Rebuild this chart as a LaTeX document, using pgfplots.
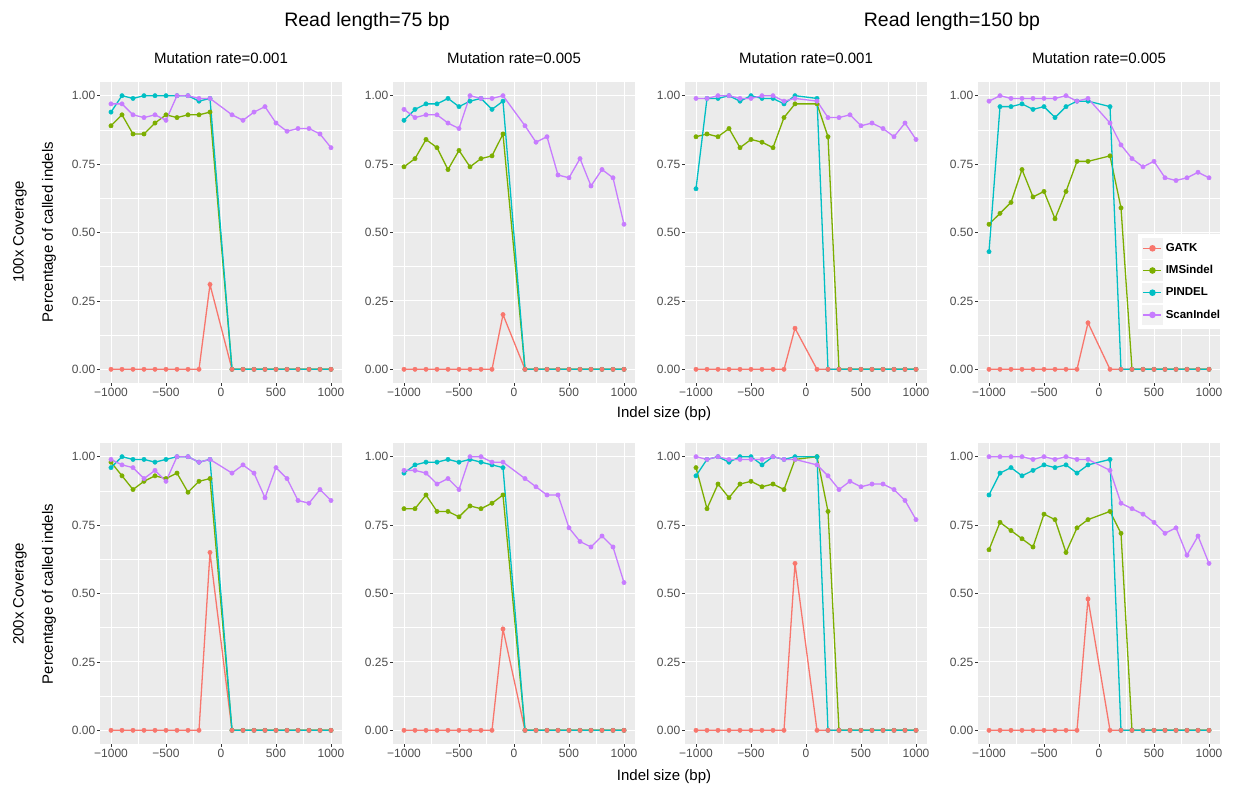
\documentclass[border=0pt]{standalone}
\usepackage{fontspec}
\setmainfont{Liberation Sans}
\usepackage{pgfplots}
\usepackage{pgfplotstable}
\pgfplotsset{compat=1.18}
\definecolor{ggred}{HTML}{F8766D}
\definecolor{gggreen}{HTML}{7CAE00}
\definecolor{ggcyan}{HTML}{00BFC4}
\definecolor{ggpurple}{HTML}{C77CFF}
\definecolor{ggbg}{HTML}{EBEBEB}
\definecolor{ggkey}{HTML}{F2F2F2}
\definecolor{gglab}{HTML}{4D4D4D}
\definecolor{ggtick}{HTML}{333333}

% 75 bp, rate 0.001, 100x
\pgfplotstableread{
x gatk ims pin scan
-1000 0 0.89 0.94 0.97
-900 0 0.93 1.00 0.97
-800 0 0.86 0.99 0.93
-700 0 0.86 1.00 0.92
-600 0 0.90 1.00 0.93
-500 0 0.93 1.00 0.91
-400 0 0.92 1.00 1.00
-300 0 0.93 1.00 1.00
-200 0 0.93 0.98 0.99
-100 0.31 0.94 0.99 0.99
100 0 0 0 0.93
200 0 0 0 0.91
300 0 0 0 0.94
400 0 0 0 0.96
500 0 0 0 0.90
600 0 0 0 0.87
700 0 0 0 0.88
800 0 0 0 0.88
900 0 0 0 0.86
1000 0 0 0 0.81
}\tabA
% 75 bp, rate 0.005, 100x
\pgfplotstableread{
x gatk ims pin scan
-1000 0 0.74 0.91 0.95
-900 0 0.77 0.95 0.92
-800 0 0.84 0.97 0.93
-700 0 0.81 0.97 0.93
-600 0 0.73 0.99 0.90
-500 0 0.80 0.96 0.88
-400 0 0.74 0.98 1.00
-300 0 0.77 0.99 0.99
-200 0 0.78 0.95 0.99
-100 0.20 0.86 0.98 1.00
100 0 0 0 0.89
200 0 0 0 0.83
300 0 0 0 0.85
400 0 0 0 0.71
500 0 0 0 0.70
600 0 0 0 0.77
700 0 0 0 0.67
800 0 0 0 0.73
900 0 0 0 0.70
1000 0 0 0 0.53
}\tabB
% 150 bp, rate 0.001, 100x
\pgfplotstableread{
x gatk ims pin scan
-1000 0 0.85 0.66 0.99
-900 0 0.86 0.99 0.99
-800 0 0.85 0.99 1.00
-700 0 0.88 1.00 1.00
-600 0 0.81 0.98 0.99
-500 0 0.84 1.00 0.99
-400 0 0.83 0.99 1.00
-300 0 0.81 0.99 1.00
-200 0 0.92 0.97 0.98
-100 0.15 0.97 1.00 0.99
100 0 0.97 0.99 0.98
200 0 0.85 0 0.92
300 0 0 0 0.92
400 0 0 0 0.93
500 0 0 0 0.89
600 0 0 0 0.90
700 0 0 0 0.88
800 0 0 0 0.85
900 0 0 0 0.90
1000 0 0 0 0.84
}\tabC
% 150 bp, rate 0.005, 100x
\pgfplotstableread{
x gatk ims pin scan
-1000 0 0.53 0.43 0.98
-900 0 0.57 0.96 1.00
-800 0 0.61 0.96 0.99
-700 0 0.73 0.97 0.99
-600 0 0.63 0.95 0.99
-500 0 0.65 0.96 0.99
-400 0 0.55 0.92 0.99
-300 0 0.65 0.96 1.00
-200 0 0.76 0.98 0.98
-100 0.17 0.76 0.98 0.99
100 0 0.78 0.96 0.90
200 0 0.59 0 0.82
300 0 0 0 0.77
400 0 0 0 0.74
500 0 0 0 0.76
600 0 0 0 0.70
700 0 0 0 0.69
800 0 0 0 0.70
900 0 0 0 0.72
1000 0 0 0 0.70
}\tabD
% 75 bp, rate 0.001, 200x
\pgfplotstableread{
x gatk ims pin scan
-1000 0 0.98 0.96 0.99
-900 0 0.93 1.00 0.97
-800 0 0.88 0.99 0.96
-700 0 0.91 0.99 0.92
-600 0 0.93 0.98 0.95
-500 0 0.92 0.99 0.91
-400 0 0.94 1.00 1.00
-300 0 0.87 1.00 1.00
-200 0 0.91 0.98 0.98
-100 0.65 0.92 0.99 0.99
100 0 0 0 0.94
200 0 0 0 0.97
300 0 0 0 0.94
400 0 0 0 0.85
500 0 0 0 0.96
600 0 0 0 0.92
700 0 0 0 0.84
800 0 0 0 0.83
900 0 0 0 0.88
1000 0 0 0 0.84
}\tabE
% 75 bp, rate 0.005, 200x
\pgfplotstableread{
x gatk ims pin scan
-1000 0 0.81 0.94 0.95
-900 0 0.81 0.97 0.95
-800 0 0.86 0.98 0.94
-700 0 0.80 0.98 0.90
-600 0 0.80 0.99 0.92
-500 0 0.78 0.98 0.88
-400 0 0.82 0.99 1.00
-300 0 0.81 0.98 1.00
-200 0 0.83 0.97 0.98
-100 0.37 0.86 0.96 0.98
100 0 0 0 0.92
200 0 0 0 0.89
300 0 0 0 0.86
400 0 0 0 0.86
500 0 0 0 0.74
600 0 0 0 0.69
700 0 0 0 0.67
800 0 0 0 0.71
900 0 0 0 0.67
1000 0 0 0 0.54
}\tabF
% 150 bp, rate 0.001, 200x
\pgfplotstableread{
x gatk ims pin scan
-1000 0 0.96 0.93 1.00
-900 0 0.81 0.99 0.99
-800 0 0.90 1.00 1.00
-700 0 0.85 0.98 0.99
-600 0 0.90 1.00 0.99
-500 0 0.91 1.00 0.99
-400 0 0.89 0.97 0.99
-300 0 0.90 1.00 1.00
-200 0 0.88 0.99 0.99
-100 0.61 0.99 1.00 0.99
100 0 1.00 1.00 0.97
200 0 0.80 0 0.93
300 0 0 0 0.88
400 0 0 0 0.91
500 0 0 0 0.89
600 0 0 0 0.90
700 0 0 0 0.90
800 0 0 0 0.88
900 0 0 0 0.84
1000 0 0 0 0.77
}\tabG
% 150 bp, rate 0.005, 200x
\pgfplotstableread{
x gatk ims pin scan
-1000 0 0.66 0.86 1.00
-900 0 0.76 0.94 1.00
-800 0 0.73 0.96 1.00
-700 0 0.70 0.93 1.00
-600 0 0.67 0.95 0.99
-500 0 0.79 0.97 1.00
-400 0 0.77 0.96 0.99
-300 0 0.65 0.97 1.00
-200 0 0.74 0.94 0.99
-100 0.48 0.77 0.97 0.99
100 0 0.80 0.99 0.95
200 0 0.72 0 0.83
300 0 0 0 0.81
400 0 0 0 0.79
500 0 0 0 0.76
600 0 0 0 0.72
700 0 0 0 0.74
800 0 0 0 0.64
900 0 0 0 0.71
1000 0 0 0 0.61
}\tabH

\pgfplotsset{
  ggpanel/.style={
    scale only axis, width=242pt, height=301pt,
    xmin=-1100, xmax=1100, ymin=-0.05, ymax=1.05,
    xtick={-1000,-500,0,500,1000},
    xticklabels={−1000,−500,0,500,1000},
    ytick={0,0.25,0.5,0.75,1},
    yticklabels={0.00,0.25,0.50,0.75,1.00},
    minor xtick={-750,-250,250,750},
    minor ytick={0.125,0.375,0.625,0.875},
    grid=both,
    major grid style={white, line width=1.0pt},
    minor grid style={white, line width=0.5pt},
    axis background/.style={fill=ggbg},
    axis line style={draw=none},
    tick pos=left,
    tick align=outside,
    major tick length=3pt, minor tick length=0pt,
    tick style={color=ggtick, line width=0.6pt},
    ticklabel style={font=\fontsize{12}{14}\selectfont, text=gglab},
    xticklabel style={inner sep=2pt},
    yticklabel style={inner sep=1.5pt},
  },
  ggl/.style={line width=1.3pt, no marks, forget plot},
  ggm/.style={only marks, mark=*, mark size=2.2pt, forget plot},
  legend style={at={(0.661,0.495)}, anchor=north west, draw=none, fill=white,
     font=\bfseries\fontsize{11.5}{13}\selectfont, row sep=0pt,
     inner xsep=3pt, inner ysep=3pt,
     nodes={inner ysep=0pt, inner xsep=2pt}},
  legend cell align=left,
  legend image code/.code={%
       \fill[ggkey, draw=white, line width=0.6pt] (-2pt,-10.8pt) rectangle (20pt,10.8pt);
       \draw[mark repeat=2, mark phase=2, #1] plot coordinates {(0pt,0pt) (9pt,0pt) (18pt,0pt)};},
}

\newcommand{\drawpanel}[4]{%
\begin{axis}[ggpanel, at={(#1pt,#2pt)}, anchor=north west]
\addplot[ggl, ggred] table[x=x,y=gatk]{#3};
\addplot[ggl, gggreen] table[x=x,y=ims]{#3};
\addplot[ggl, ggcyan] table[x=x,y=pin]{#3};
\addplot[ggl, ggpurple] table[x=x,y=scan]{#3};
\addplot[ggm, gggreen] table[x=x,y=ims]{#3};
\addplot[ggm, ggcyan] table[x=x,y=pin]{#3};
\addplot[ggm, ggred] table[x=x,y=gatk]{#3};
\addplot[ggm, ggpurple] table[x=x,y=scan]{#3};
#4
\end{axis}}

\begin{document}
\begin{tikzpicture}[x=1pt,y=1pt]
\useasboundingbox (0,0) rectangle (1240,-786);

\drawpanel{100}{-82}{\tabA}{}
\drawpanel{393}{-82}{\tabB}{}
\drawpanel{685}{-82}{\tabC}{}
\drawpanel{978}{-82}{\tabD}{%
  \addlegendimage{ggred, line width=1.3pt, mark=*, mark size=2.6pt}
  \addlegendentry{GATK}
  \addlegendimage{gggreen, line width=1.3pt, mark=*, mark size=2.6pt}
  \addlegendentry{IMSindel}
  \addlegendimage{ggcyan, line width=1.3pt, mark=*, mark size=2.6pt}
  \addlegendentry{PINDEL}
  \addlegendimage{ggpurple, line width=1.3pt, mark=*, mark size=2.6pt}
  \addlegendentry{ScanIndel}
}
\drawpanel{100}{-443}{\tabE}{}
\drawpanel{393}{-443}{\tabF}{}
\drawpanel{685}{-443}{\tabG}{}
\drawpanel{978}{-443}{\tabH}{}

% titles
\node[anchor=base, font=\fontsize{19.5}{22}\selectfont] at (367,-27) {Read length=75 bp};
\node[anchor=base, font=\fontsize{19.5}{22}\selectfont] at (952,-27) {Read length=150 bp};
\node[anchor=base, font=\fontsize{15}{18}\selectfont] at (221,-64) {Mutation rate=0.001};
\node[anchor=base, font=\fontsize{15}{18}\selectfont] at (514,-64) {Mutation rate=0.005};
\node[anchor=base, font=\fontsize{15}{18}\selectfont] at (806,-64) {Mutation rate=0.001};
\node[anchor=base, font=\fontsize{15}{18}\selectfont] at (1099,-64) {Mutation rate=0.005};

\node[anchor=base, font=\fontsize{15}{18}\selectfont] at (664,-417) {Indel size (bp)};
\node[anchor=base, font=\fontsize{15}{18}\selectfont] at (664,-780) {Indel size (bp)};

\node[rotate=90, font=\fontsize{15}{18}\selectfont] at (20,-232) {100x Coverage};
\node[rotate=90, font=\fontsize{15}{18}\selectfont] at (49,-232) {Percentage of called indels};
\node[rotate=90, font=\fontsize{15}{18}\selectfont] at (20,-594) {200x Coverage};
\node[rotate=90, font=\fontsize{15}{18}\selectfont] at (49,-594) {Percentage of called indels};
\end{tikzpicture}
\end{document}
